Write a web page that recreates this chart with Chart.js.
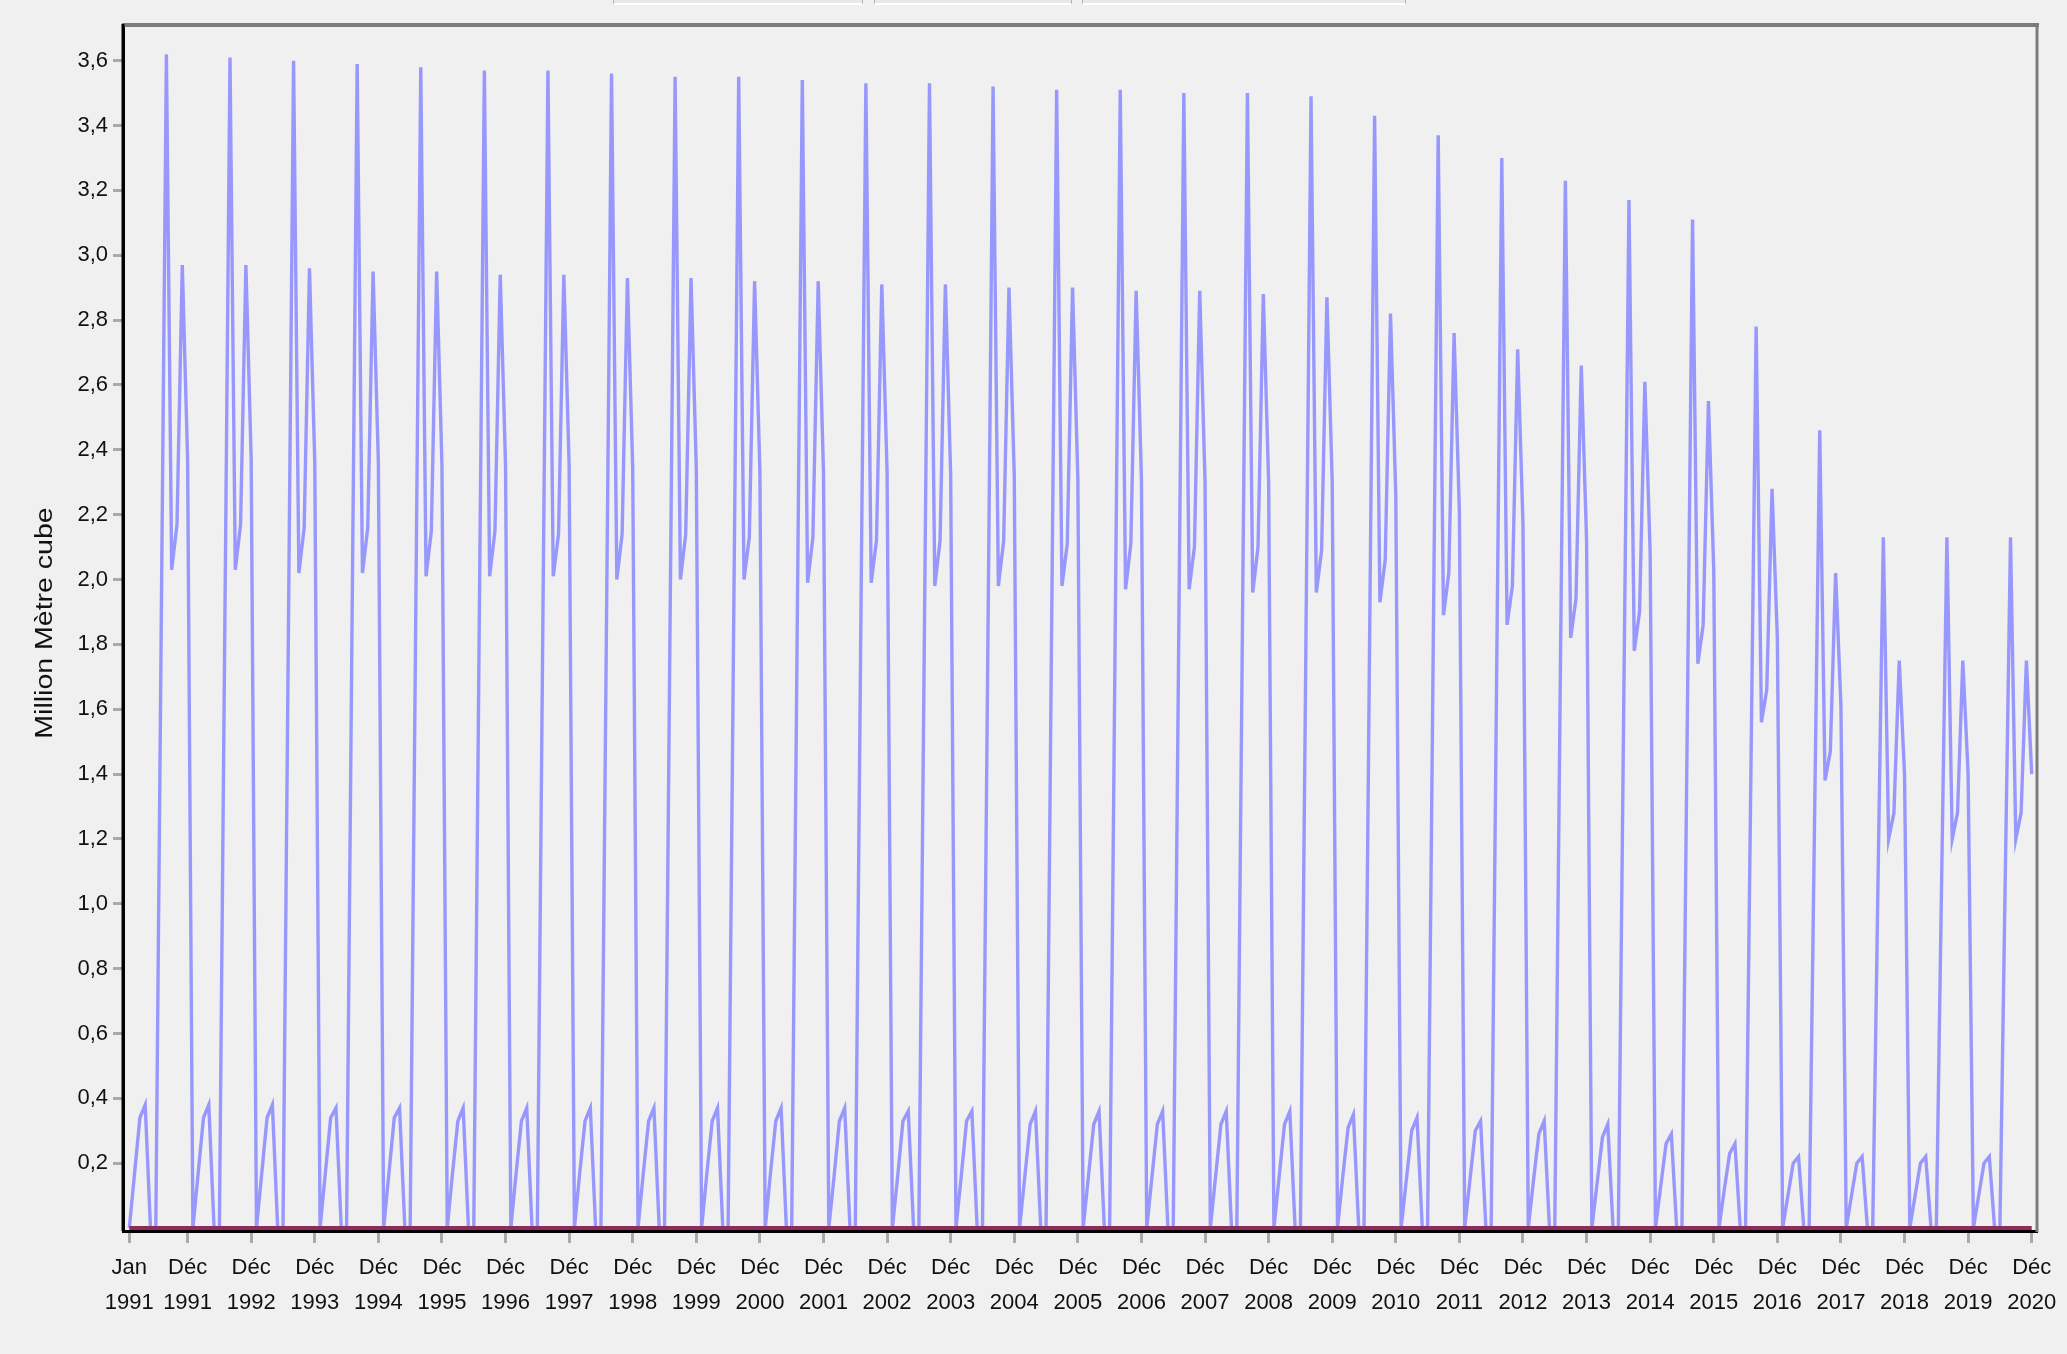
<!DOCTYPE html>
<html>
<head>
<meta charset="utf-8">
<script src="https://cdn.jsdelivr.net/npm/chart.js@4.4.1/dist/chart.umd.min.js"></script>
<style>
  html, body { margin: 0; padding: 0; background: #f0f0f0; overflow: hidden; }
  #wrap { position: relative; width: 2067px; height: 1354px; background: #f0f0f0; }
  canvas { position: absolute; left: 0; top: 0; }
  .tab { position: absolute; top: -10px; height: 12px; border: 1px solid #b4b4b4; border-bottom: 2px solid #ffffff; background: #e8e8e8; }
</style>
</head>
<body>
<div id="wrap">
  <div class="tab" style="left:613px;width:248px;"></div>
  <div class="tab" style="left:874px;width:196px;"></div>
  <div class="tab" style="left:1082px;width:322px;"></div>
  <canvas id="c" width="2067" height="1354"></canvas>
</div>
<script>
// ---------- DATA ----------
const monthNames = ['Jan','Fév','Mar','Avr','Mai','Juin','Juil','Août','Sep','Oct','Nov','Déc'];
const startYear = 1991;

// Monthly volume (Million Mètre cube), Jan..Déc for each year 1991-2020
const volume = [
  0,0.17,0.34,0.38,0,0,1.81,3.62,2.03,2.17,2.97,2.37, // 1991
  0,0.17,0.34,0.38,0,0,1.81,3.61,2.03,2.17,2.97,2.37, // 1992
  0,0.17,0.34,0.38,0,0,1.80,3.60,2.02,2.16,2.96,2.36, // 1993
  0,0.17,0.34,0.37,0,0,1.80,3.59,2.02,2.16,2.95,2.36, // 1994
  0,0.17,0.34,0.37,0,0,1.79,3.58,2.01,2.15,2.95,2.35, // 1995
  0,0.17,0.33,0.37,0,0,1.79,3.57,2.01,2.15,2.94,2.35, // 1996
  0,0.17,0.33,0.37,0,0,1.79,3.57,2.01,2.14,2.94,2.35, // 1997
  0,0.17,0.33,0.37,0,0,1.78,3.56,2.00,2.14,2.93,2.34, // 1998
  0,0.17,0.33,0.37,0,0,1.78,3.55,2.00,2.14,2.93,2.34, // 1999
  0,0.17,0.33,0.37,0,0,1.77,3.55,2.00,2.13,2.92,2.33, // 2000
  0,0.17,0.33,0.37,0,0,1.77,3.54,1.99,2.13,2.92,2.33, // 2001
  0,0.16,0.33,0.37,0,0,1.77,3.53,1.99,2.12,2.91,2.33, // 2002
  0,0.16,0.33,0.36,0,0,1.76,3.53,1.98,2.12,2.91,2.32, // 2003
  0,0.16,0.33,0.36,0,0,1.76,3.52,1.98,2.12,2.90,2.32, // 2004
  0,0.16,0.32,0.36,0,0,1.76,3.51,1.98,2.11,2.90,2.31, // 2005
  0,0.16,0.32,0.36,0,0,1.75,3.51,1.97,2.11,2.89,2.31, // 2006
  0,0.16,0.32,0.36,0,0,1.75,3.50,1.97,2.10,2.89,2.30, // 2007
  0,0.16,0.32,0.36,0,0,1.75,3.50,1.96,2.10,2.88,2.30, // 2008
  0,0.16,0.32,0.36,0,0,1.74,3.49,1.96,2.09,2.87,2.30, // 2009
  0,0.16,0.31,0.35,0,0,1.71,3.43,1.93,2.06,2.82,2.26, // 2010
  0,0.15,0.30,0.34,0,0,1.68,3.37,1.89,2.02,2.76,2.21, // 2011
  0,0.15,0.30,0.33,0,0,1.65,3.30,1.86,1.98,2.71,2.17, // 2012
  0,0.15,0.29,0.33,0,0,1.62,3.23,1.82,1.94,2.66,2.12, // 2013
  0,0.14,0.28,0.32,0,0,1.59,3.17,1.78,1.90,2.61,2.08, // 2014
  0,0.13,0.26,0.29,0,0,1.55,3.11,1.74,1.86,2.55,2.03, // 2015
  0,0.12,0.23,0.26,0,0,1.39,2.78,1.56,1.66,2.28,1.82, // 2016
  0,0.10,0.20,0.22,0,0,1.23,2.46,1.38,1.47,2.02,1.61, // 2017
  0,0.10,0.20,0.22,0,0,1.07,2.13,1.20,1.28,1.75,1.40, // 2018
  0,0.10,0.20,0.22,0,0,1.07,2.13,1.20,1.28,1.75,1.40, // 2019
  0,0.10,0.20,0.22,0,0,1.07,2.13,1.20,1.28,1.75,1.40  // 2020
];

// Second series: flat at zero over the whole period
const baseline = [
  0,0,0,0,0,0,0,0,0,0,0,0, 0,0,0,0,0,0,0,0,0,0,0,0, 0,0,0,0,0,0,0,0,0,0,0,0,
  0,0,0,0,0,0,0,0,0,0,0,0, 0,0,0,0,0,0,0,0,0,0,0,0, 0,0,0,0,0,0,0,0,0,0,0,0,
  0,0,0,0,0,0,0,0,0,0,0,0, 0,0,0,0,0,0,0,0,0,0,0,0, 0,0,0,0,0,0,0,0,0,0,0,0,
  0,0,0,0,0,0,0,0,0,0,0,0, 0,0,0,0,0,0,0,0,0,0,0,0, 0,0,0,0,0,0,0,0,0,0,0,0,
  0,0,0,0,0,0,0,0,0,0,0,0, 0,0,0,0,0,0,0,0,0,0,0,0, 0,0,0,0,0,0,0,0,0,0,0,0,
  0,0,0,0,0,0,0,0,0,0,0,0, 0,0,0,0,0,0,0,0,0,0,0,0, 0,0,0,0,0,0,0,0,0,0,0,0,
  0,0,0,0,0,0,0,0,0,0,0,0, 0,0,0,0,0,0,0,0,0,0,0,0, 0,0,0,0,0,0,0,0,0,0,0,0,
  0,0,0,0,0,0,0,0,0,0,0,0, 0,0,0,0,0,0,0,0,0,0,0,0, 0,0,0,0,0,0,0,0,0,0,0,0,
  0,0,0,0,0,0,0,0,0,0,0,0, 0,0,0,0,0,0,0,0,0,0,0,0, 0,0,0,0,0,0,0,0,0,0,0,0,
  0,0,0,0,0,0,0,0,0,0,0,0, 0,0,0,0,0,0,0,0,0,0,0,0, 0,0,0,0,0,0,0,0,0,0,0,0
];

// X tick labels (month, year)
const tickMonths = ['Jan','Déc','Déc','Déc','Déc','Déc','Déc','Déc','Déc','Déc','Déc',
  'Déc','Déc','Déc','Déc','Déc','Déc','Déc','Déc','Déc','Déc',
  'Déc','Déc','Déc','Déc','Déc','Déc','Déc','Déc','Déc','Déc'];
const tickYears = [1991,1991,1992,1993,1994,1995,1996,1997,1998,1999,2000,
  2001,2002,2003,2004,2005,2006,2007,2008,2009,2010,
  2011,2012,2013,2014,2015,2016,2017,2018,2019,2020];
// Y tick labels
const yTickValues = [0.2,0.4,0.6,0.8,1.0,1.2,1.4,1.6,1.8,2.0,2.2,2.4,2.6,2.8,3.0,3.2,3.4,3.6];
const yTitle = 'Million Mètre cube';

// ---------- CHART ----------
const tickIndex = tickMonths.map((m, i) => (tickYears[i] - startYear) * 12 + monthNames.indexOf(m));
const tickLabelOf = {};
tickIndex.forEach((v, i) => { tickLabelOf[v] = [tickMonths[i], String(tickYears[i])]; });

const xFont = { family: "'Liberation Sans', Arial, sans-serif", size: 22, lineHeight: 1.6 };
const yFont = { family: "'Liberation Sans', Arial, sans-serif", size: 22 };

const framePlugin = {
  id: 'frame',
  afterDraw(chart) {
    const { ctx, chartArea: a } = chart;
    ctx.save();
    // top & right grey edges of the plot frame
    ctx.strokeStyle = '#7c7c7c';
    ctx.lineWidth = 4;
    ctx.beginPath();
    ctx.moveTo(a.left - 1, a.top);
    ctx.lineTo(a.right + 2, a.top);
    ctx.stroke();
    ctx.lineWidth = 3;
    ctx.beginPath();
    ctx.moveTo(a.right, a.top);
    ctx.lineTo(a.right, a.bottom + 1);
    ctx.stroke();
    // left black edge up to the top
    ctx.strokeStyle = '#000';
    ctx.lineWidth = 3;
    ctx.beginPath();
    ctx.moveTo(a.left, a.top - 1);
    ctx.lineTo(a.left, a.bottom);
    ctx.stroke();
    // y axis title
    ctx.translate(46, (a.top + a.bottom) / 2 - 5);
    ctx.rotate(-Math.PI / 2);
    ctx.scale(1.24, 1);
    ctx.fillStyle = '#111';
    ctx.font = "23px 'Liberation Sans', Arial, sans-serif";
    ctx.textAlign = 'center';
    ctx.textBaseline = 'middle';
    ctx.fillText(yTitle, 0, 0);
    ctx.restore();
  }
};

new Chart(document.getElementById('c'), {
  type: 'line',
  data: {
    datasets: [
      {
        label: 'zero',
        data: baseline.map((v, i) => ({ x: i, y: v })),
        borderColor: '#8c2b5c',
        borderWidth: 4,
        pointRadius: 0,
        tension: 0,
        clip: false
      },
      {
        label: 'Volume',
        data: volume.map((v, i) => ({ x: i, y: v })),
        borderColor: '#9898fc',
        borderWidth: 3.4,
        pointRadius: 0,
        tension: 0
      }
    ]
  },
  options: {
    responsive: false,
    devicePixelRatio: 1,
    animation: false,
    events: [],
    layout: { padding: { top: 25, right: 30, left: 0, bottom: 0 } },
    plugins: { legend: { display: false }, tooltip: { enabled: false } },
    scales: {
      x: {
        type: 'linear',
        min: -1.19,
        max: 360,
        afterFit(s) { s.height = 123; },
        afterBuildTicks(s) { s.ticks = tickIndex.map(v => ({ value: v })); },
        border: { display: true, color: '#000', width: 3 },
        grid: { drawOnChartArea: false, drawTicks: true, tickLength: 12, tickWidth: 3, tickColor: '#aaaaaa' },
        ticks: {
          autoSkip: false, maxRotation: 0, minRotation: 0, padding: 7,
          color: '#111', font: xFont,
          callback: (v) => tickLabelOf[v] || ''
        }
      },
      y: {
        min: -0.0092,
        max: 3.71,
        afterFit(s) { s.width = 123; },
        afterBuildTicks(s) { s.ticks = yTickValues.map(v => ({ value: v })); },
        border: { display: true, color: '#000', width: 3 },
        grid: { drawOnChartArea: false, drawTicks: true, tickLength: 10, tickWidth: 3, tickColor: '#aaaaaa' },
        ticks: {
          padding: 5, color: '#111', font: yFont,
          callback: (v) => v.toFixed(1).replace('.', ',')
        }
      }
    }
  },
  plugins: [framePlugin]
});
</script>
</body>
</html>
